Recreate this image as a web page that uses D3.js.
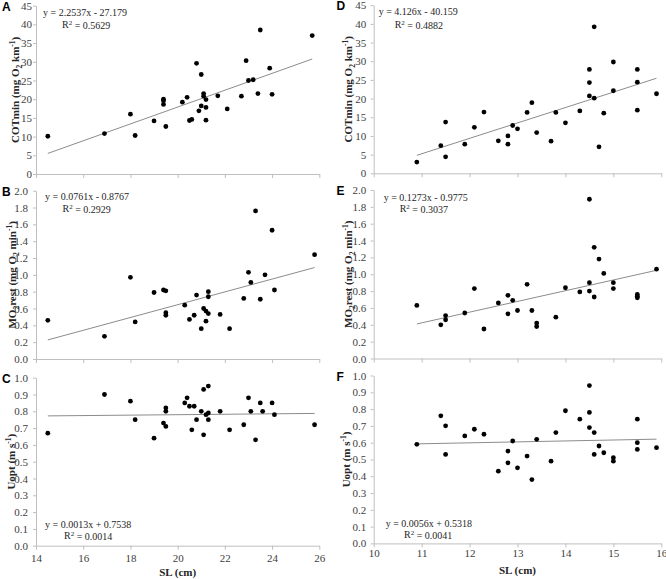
<!DOCTYPE html>
<html lang="en">
<head>
<meta charset="utf-8">
<title>SL scatter panels</title>
<script src="https://cdnjs.cloudflare.com/ajax/libs/d3/7.8.5/d3.min.js"></script>
<style>
  body { margin: 0; background: #fff; }
  svg { display: block; }
  .tick text { font-family: "Liberation Serif", serif; font-size: 11px; fill: #404040; }
  .eq { font-family: "Liberation Serif", serif; font-size: 10px; fill: #262626; }
  .ttl { font-family: "Liberation Serif", serif; font-size: 11px; font-weight: bold; fill: #262626; }
  .lbl { font-family: "Liberation Sans", Arial, sans-serif; font-size: 12px; font-weight: bold; fill: #000; }
</style>
</head>
<body>
<svg id="chart" width="666" height="579"></svg>
<script>
// ---- data ----
var slA = [14.5,16.9,18.0,18.2,19.0,19.4,19.4,19.4,19.5,20.2,20.4,20.5,20.6,20.8,20.9,21.0,21.0,21.1,21.1,21.2,21.2,21.2,21.7,22.1,22.7,22.9,23.0,23.2,23.4,23.5,23.9,24.0,25.7];
var cotA = [10.1,10.8,16.0,10.3,14.2,19.6,20.0,18.6,12.7,19.2,20.5,14.3,14.6,29.6,16.9,26.6,18.2,21.5,20.8,19.9,17.8,14.4,20.9,17.4,20.8,30.3,25.0,25.2,21.5,38.5,28.3,21.3,37.0];

var slB = [14.5,16.9,18.0,18.2,19.0,19.4,19.5,19.5,19.5,20.3,20.5,20.7,20.8,21.0,21.1,21.2,21.2,21.3,21.3,21.3,21.8,22.2,22.8,23.0,23.1,23.3,23.5,23.7,24.0,24.1,25.8];
var moB = [0.46,0.27,0.97,0.44,0.79,0.82,0.81,0.55,0.52,0.64,0.47,0.52,0.76,0.36,0.60,0.57,0.45,0.54,0.80,0.74,0.53,0.36,0.72,1.03,0.91,1.76,0.71,1.00,1.53,0.82,1.24];

var slC = [14.5,16.9,18.0,18.2,19.0,19.4,19.5,19.5,19.5,20.3,20.4,20.5,20.6,20.7,20.8,21.0,21.1,21.1,21.2,21.3,21.3,21.3,21.8,22.2,22.8,23.0,23.1,23.3,23.5,23.6,24.0,24.1,25.8];
var uoptC = [0.67,0.90,0.86,0.75,0.64,0.73,0.82,0.80,0.71,0.85,0.88,0.83,0.69,0.83,0.75,0.80,0.93,0.66,0.78,0.79,0.95,0.75,0.80,0.69,0.72,0.88,0.80,0.63,0.85,0.80,0.85,0.78,0.72];

var slDF = [10.9,11.4,11.5,11.5,11.9,12.1,12.3,12.6,12.8,12.8,12.9,13.0,13.2,13.3,13.4,13.7,13.8,14.0,14.3,14.5,14.5,14.5,14.6,14.6,14.7,14.8,15.0,15.0,15.5,15.5,15.5,15.9];
var cotD = [3.0,7.4,13.7,4.4,7.8,12.3,16.4,8.7,10.0,7.8,12.8,11.9,16.3,18.9,10.9,8.6,16.3,13.5,16.7,27.8,24.3,20.7,39.2,20.1,7.1,16.1,29.8,22.1,27.8,24.4,16.9,21.3];
var uoptF = [0.59,0.76,0.70,0.53,0.64,0.68,0.65,0.43,0.55,0.48,0.61,0.45,0.52,0.38,0.62,0.49,0.66,0.79,0.74,0.94,0.78,0.69,0.66,0.53,0.58,0.54,0.51,0.49,0.74,0.60,0.56,0.57];

var slE = [10.9,11.4,11.5,11.5,11.9,12.1,12.3,12.6,12.8,12.8,12.9,13.0,13.2,13.3,13.4,13.4,13.8,14.0,14.3,14.5,14.5,14.5,14.6,14.6,14.7,14.8,15.0,15.0,15.5,15.5,15.5,15.9];
var moE = [0.63,0.40,0.51,0.46,0.54,0.83,0.35,0.66,0.75,0.53,0.69,0.57,0.88,0.57,0.42,0.38,0.49,0.84,0.79,1.89,0.90,0.80,1.32,0.73,1.18,1.01,0.90,0.83,0.76,0.74,0.72,1.06];

// fitted lines (as printed on the panels)
var fitSlope = [2.2537, 0.0761, 0.0013, 4.126, 0.1273, 0.0056];
var fitIntercept = [-27.179, -0.8767, 0.7538, -40.159, -0.9775, 0.5318];
var eqText = ["y = 2.2537x - 27.179", "y = 0.0761x - 0.8767", "y = 0.0013x + 0.7538",
              "y = 4.126x - 40.159", "y = 0.1273x - 0.9775", "y = 0.0056x + 0.5318"];
var r2Text = ["0.5629", "0.2929", "0.0014", "0.4882", "0.3037", "0.0041"];

// tick labels
var slLeftTicks = [14,16,18,20,22,24,26];
var slRightTicks = [10,11,12,13,14,15,16];
var cotTicks = [0,5,10,15,20,25,30,35,40,45];
var moTicks = [0,0.2,0.4,0.6,0.8,1.0,1.2,1.4,1.6,1.8,2.0];
var uoptTicks = [0,0.1,0.2,0.3,0.4,0.5,0.6,0.7,0.8,0.9,1.0];

// ---- layout ----
var svg = d3.select("#chart");
svg.append("rect").attr("width", 666).attr("height", 579).attr("fill", "#fff");

var panels = [
  {k:"A", xs:slA, ys:cotA, xd:[14,26], xr:[36,319.3], yd:[0,45], yr:[174,5.7], yt:cotTicks, yf:"d", xt:slLeftTicks, xlab:"none", pad:1, ttlX:15, lblX:2, eqX:43, eqY:12.5, r2X:62, r2Y:24, title:"cot"},
  {k:"B", xs:slB, ys:moB, xd:[14,26], xr:[36,319.3], yd:[0,2], yr:[359,190.7], yt:moTicks, yf:".1f", xt:slLeftTicks, xlab:"clip", pad:5, ttlX:12.5, lblX:2, eqX:45, eqY:196.5, r2X:62.5, r2Y:208, title:"mo"},
  {k:"C", xs:slC, ys:uoptC, xd:[14,26], xr:[36,319.3], yd:[0,1], yr:[545.7,377.7], yt:uoptTicks, yf:".1f", xt:slLeftTicks, xlab:"show", xpad:4.3, pad:5, ttlX:11, lblX:2, eqX:45, eqY:524, r2X:64, r2Y:535, title:"uopt", slY:572.5},
  {k:"D", xs:slDF, ys:cotD, xd:[10,16], xr:[373.7,661.3], yd:[0,45], yr:[173.3,5.2], yt:cotTicks, yf:"d", xt:slRightTicks, xlab:"none", pad:4.5, ttlX:348, lblX:336.5, eqX:378.7, eqY:11.5, r2X:394.7, r2Y:24, title:"cot"},
  {k:"E", xs:slE, ys:moE, xd:[10,16], xr:[373.7,661.3], yd:[0,2], yr:[358.5,190], yt:moTicks, yf:".1f", xt:slRightTicks, xlab:"none", pad:4.5, ttlX:348, lblX:336.5, eqX:383.7, eqY:197, r2X:399.7, r2Y:208, title:"mo"},
  {k:"F", xs:slDF, ys:uoptF, xd:[10,16], xr:[373.7,661.3], yd:[0,1], yr:[543.4,375.5], yt:uoptTicks, yf:".1f", xt:slRightTicks, xlab:"show", xpad:2, pad:4.5, ttlX:346, lblX:336.5, eqX:385.7, eqY:523.5, r2X:404, r2Y:534, title:"uopt", slY:570}
];

// clip for the half-hidden tick labels under panel B (page coordinates)
svg.append("clipPath").attr("id", "clipB")
  .append("rect").attr("x", 0).attr("y", 0).attr("width", 333).attr("height", 368);

function styleAxis(g) {
  g.select(".domain").attr("stroke", "#bfbfbf").attr("stroke-width", 1);
  g.selectAll(".tick line").attr("stroke", "#bfbfbf").attr("stroke-width", 1);
}

panels.forEach(function(p, i) {
  var x = d3.scaleLinear().domain(p.xd).range(p.xr);
  var y = d3.scaleLinear().domain(p.yd).range(p.yr);
  var g = svg.append("g");

  // y axis
  var ya = g.append("g").attr("transform", "translate(" + p.xr[0] + ",0)")
    .call(d3.axisLeft(y).tickValues(p.yt).tickSize(3).tickSizeOuter(0).tickPadding(p.pad)
      .tickFormat(p.yf === "d" ? d3.format("d") : d3.format(".1f")));
  styleAxis(ya);

  // x axis (wrapped so the clip works in page coordinates)
  var wrap = g.append("g");
  if (p.xlab === "clip") wrap.attr("clip-path", "url(#clipB)");
  var xa = wrap.append("g").attr("transform", "translate(0," + p.yr[0] + ")")
    .call(d3.axisBottom(x).tickValues(p.xt).tickSize(4).tickSizeOuter(0).tickPadding(p.xpad || 4.3)
      .tickFormat(p.xlab === "none" ? "" : d3.format("d")));
  styleAxis(xa);

  // trend line over the range of the data
  var x0 = d3.min(p.xs), x1 = d3.max(p.xs);
  g.append("line")
    .attr("x1", x(x0)).attr("y1", y(fitSlope[i] * x0 + fitIntercept[i]))
    .attr("x2", x(x1)).attr("y2", y(fitSlope[i] * x1 + fitIntercept[i]))
    .attr("stroke", "#8c8c8c").attr("stroke-width", 1);

  // points
  g.selectAll("circle").data(p.xs).enter().append("circle")
    .attr("cx", function(d) { return x(d); })
    .attr("cy", function(d, j) { return y(p.ys[j]); })
    .attr("r", 2.4)
    .attr("fill", "#000");

  // equation + R²
  g.append("text").attr("class", "eq").attr("x", p.eqX).attr("y", p.eqY).attr("dy", "0.35em").text(eqText[i]);
  var r2 = g.append("text").attr("class", "eq").attr("x", p.r2X).attr("y", p.r2Y).attr("dy", "0.35em");
  r2.append("tspan").text("R");
  r2.append("tspan").attr("dy", "-0.35em").style("font-size", "7px").text("2");
  r2.append("tspan").attr("dy", "0.35em").text(" = " + r2Text[i]);

  // panel letter
  g.append("text").attr("class", "lbl").attr("x", p.lblX).attr("y", p.yr[1] + 1).attr("dy", "0.35em").text(p.k);

  // y title
  var cy = (p.yr[0] + p.yr[1]) / 2;
  var t = g.append("text").attr("class", "ttl")
    .attr("transform", "translate(" + p.ttlX + "," + cy + ") rotate(-90)")
    .attr("text-anchor", "middle").attr("dy", "0.35em");
  if (p.title === "cot") {
    t.append("tspan").text("COTmin (mg O");
    t.append("tspan").attr("dy", "3").style("font-size", "7.5px").text("2");
    t.append("tspan").attr("dy", "-3").text(" km");
    t.append("tspan").attr("dy", "-4").style("font-size", "7.5px").text("-1");
    t.append("tspan").attr("dy", "4").text(")");
  } else if (p.title === "mo") {
    t.append("tspan").text("MO");
    t.append("tspan").attr("dy", "3").style("font-size", "7.5px").text("2");
    t.append("tspan").attr("dy", "-3").text("rest (mg O");
    t.append("tspan").attr("dy", "3").style("font-size", "7.5px").text("2");
    t.append("tspan").attr("dy", "-3").text(" min");
    t.append("tspan").attr("dy", "-4").style("font-size", "7.5px").text("-1");
    t.append("tspan").attr("dy", "4").text(")");
  } else {
    t.append("tspan").text("Uopt (m s");
    t.append("tspan").attr("dy", "-4").style("font-size", "7.5px").text("-1");
    t.append("tspan").attr("dy", "4").text(")");
  }

  // x title on the bottom panels
  if (p.slY) {
    g.append("text").attr("class", "ttl").attr("x", (p.xr[0] + p.xr[1]) / 2).attr("y", p.slY)
      .attr("dy", "0.35em").attr("text-anchor", "middle").text("SL (cm)");
  }
});
</script>
</body>
</html>
